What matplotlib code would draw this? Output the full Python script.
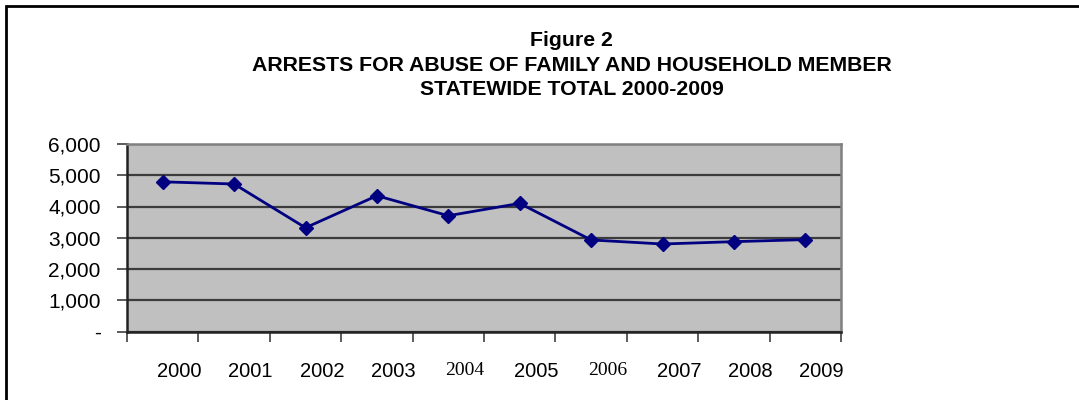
import matplotlib
matplotlib.use("Agg")
import matplotlib.pyplot as plt
from matplotlib.patches import Rectangle

# arrests per year, statewide
years = ["2000", "2001", "2002", "2003", "2004", "2005", "2006", "2007", "2008", "2009"]
arrests = [4790, 4720, 3320, 4345, 3705, 4100, 2930, 2800, 2875, 2940]
y_ticks = [0, 1000, 2000, 3000, 4000, 5000, 6000]
y_labels = ["-", "1,000", "2,000", "3,000", "4,000", "5,000", "6,000"]
serif_years = {"2004", "2006"}

plt.rcParams["font.family"] = ["Liberation Sans", "DejaVu Sans"]

fig = plt.figure(figsize=(10.79, 4.0), dpi=100)
fig.patches.append(Rectangle((6 / 1079, -0.01), 1.2, 1 - 6 / 400 + 0.01,
                             transform=fig.transFigure, fill=False,
                             edgecolor="black", linewidth=2))

title_kw = dict(ha="center", va="center", fontsize=15.3, fontweight="bold")
fig.text(0.530, 0.898, "Figure 2", **title_kw)
fig.text(0.530, 0.836, "ARRESTS FOR ABUSE OF FAMILY AND HOUSEHOLD MEMBER", **title_kw)
fig.text(0.530, 0.776, "STATEWIDE TOTAL 2000-2009", **title_kw)

ax = fig.add_axes([127 / 1079, 1 - 331.5 / 400, (841 - 127) / 1079, (331.5 - 144) / 400])
ax.set_facecolor("#C0C0C0")

x = list(range(len(years)))
ax.plot(x, arrests, color="#000080", linewidth=2, marker="D",
        markersize=7.5, markerfacecolor="#000080", markeredgecolor="#000080",
        zorder=3)

ax.set_xlim(-0.5, len(years) - 0.5)
ax.set_ylim(0, 6000)
ax.set_yticks(y_ticks)
ax.set_yticklabels(y_labels, fontsize=15)
ax.yaxis.grid(True, color="#3c3c3c", linewidth=1.6)
ax.set_axisbelow(True)

# tick marks on category boundaries, labels placed separately
ax.set_xticks([i - 0.5 for i in range(len(years) + 1)])
ax.set_xticklabels([])
ax.set_xticks([i + 0.23 for i in x], minor=True)
ax.set_xticklabels(years, minor=True)
for lab in ax.get_xticklabels(minor=True):
    if lab.get_text() in serif_years:
        lab.set_family(["Liberation Serif", "DejaVu Serif"])
        lab.set_fontsize(14)
    else:
        lab.set_fontsize(14.5)
ax.tick_params(axis="x", which="minor", length=0, pad=22)
ax.tick_params(axis="x", which="major", length=7, width=1.2, color="#404040")
ax.tick_params(axis="y", length=7, width=1.2, color="#404040", pad=12)

for side in ("left", "bottom"):
    ax.spines[side].set_color("#222222")
    ax.spines[side].set_linewidth(1.8)
for side in ("top", "right"):
    ax.spines[side].set_color("#808080")
    ax.spines[side].set_linewidth(1.8)

fig.savefig("out.png", dpi=100)
